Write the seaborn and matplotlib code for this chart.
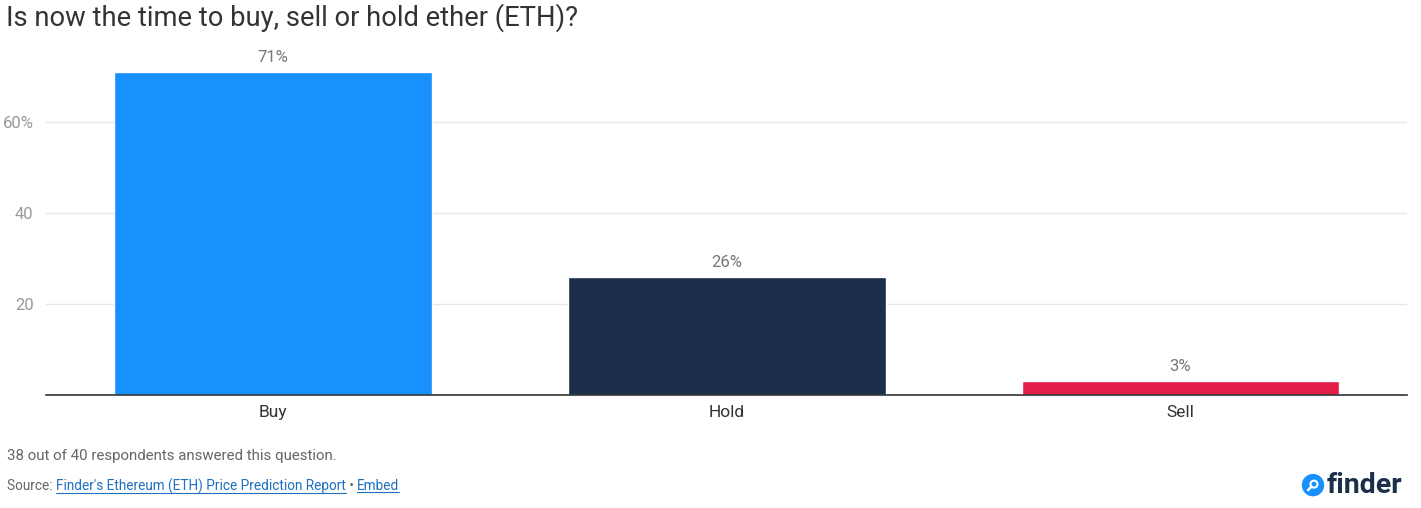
import matplotlib
matplotlib.use("Agg")
import matplotlib.pyplot as plt
import seaborn as sns
import pandas as pd
from matplotlib.patches import Circle
from matplotlib.lines import Line2D

answers = ["Buy", "Hold", "Sell"]
shares = [71, 26, 3]
bar_colors = ["#1890fe", "#1c2f4a", "#e11d48"]
ytick_values = [20, 40, 60]
ytick_labels = ["20", "40", "60%"]

title = "Is now the time to buy, sell or hold ether (ETH)?"
note = "38 out of 40 respondents answered this question."
source_link = "Finder's Ethereum (ETH) Price Prediction Report"

sns.set_theme(style="white")
plt.rcParams["font.family"] = ["Roboto", "DejaVu Sans"]

df = pd.DataFrame({"answer": answers, "share": shares})

fig = plt.figure(figsize=(14.21, 5.08), dpi=100)
ax = fig.add_axes([0.0324, 0.2224, 0.958, 0.689])

sns.barplot(data=df, x="answer", y="share", hue="answer", palette=bar_colors,
            width=0.70, legend=False, saturation=1, ax=ax, zorder=2)

ax.set_xlim(-0.5, 2.5)
ax.set_ylim(0, 76.9)
ax.set_yticks(ytick_values)
ax.set_yticklabels(ytick_labels)
ax.yaxis.grid(True, color="#e6e6e6", linewidth=1, zorder=0)
ax.set_axisbelow(True)
for side in ["top", "right", "left"]:
    ax.spines[side].set_visible(False)
ax.spines["bottom"].set_color("#333333")
ax.spines["bottom"].set_linewidth(1.2)
ax.set_xlabel("")
ax.set_ylabel("")
ax.tick_params(axis="y", length=0, labelsize=12, labelcolor="#999999", pad=9)
ax.tick_params(axis="x", length=0, labelsize=12.5, labelcolor="#333333", pad=7)

for i, v in enumerate(shares):
    ax.annotate(f"{v}%", (i, v), xytext=(0, 5), textcoords="offset points",
                ha="center", va="bottom", fontsize=12, color="#777777")

fig.text(0.004, 0.965, title, fontsize=19.7, color="#333333", va="center")
fig.text(0.005, 0.102, note, fontsize=10.8, color="#666666", va="center")

fig.canvas.draw()
renderer = fig.canvas.get_renderer()
inv = fig.transFigure.inverted()
y_src = 0.043
x = 0.005
parts = [("Source: ", "#666666", False), (source_link, "#1f6fc0", True),
         (" • ", "#666666", False), ("Embed", "#1f6fc0", True)]
for txt, col, link in parts:
    t = fig.text(x, y_src, txt, fontsize=9.85, color=col, va="center")
    bb = t.get_window_extent(renderer=renderer)
    (x0, y0), (x1, y1) = inv.transform([[bb.x0, bb.y0], [bb.x1, bb.y1]])
    if link:
        fig.add_artist(Line2D([x0, x1], [y0 + 0.002, y0 + 0.002], color=col,
                              linewidth=0.8, transform=fig.transFigure))
    x = x1

# finder logo: blue dot with a small magnifier, plus wordmark
cx, cy = 13.13, 5.08 * 0.045
fig.add_artist(Circle((cx, cy), 0.105, transform=fig.dpi_scale_trans,
                      color="#1890fe"))
fig.add_artist(Circle((cx + 0.01, cy + 0.01), 0.035, transform=fig.dpi_scale_trans,
                      fill=False, edgecolor="white", linewidth=1.5))
fig.add_artist(Line2D([cx - 0.015, cx - 0.05], [cy - 0.015, cy - 0.05],
                      color="white", linewidth=1.8,
                      transform=fig.dpi_scale_trans))
fig.text(0.9335, 0.045, "finder", fontsize=20.5, fontweight="bold",
         color="#1c2f4a", va="center")

fig.savefig("out.png", dpi=100)
